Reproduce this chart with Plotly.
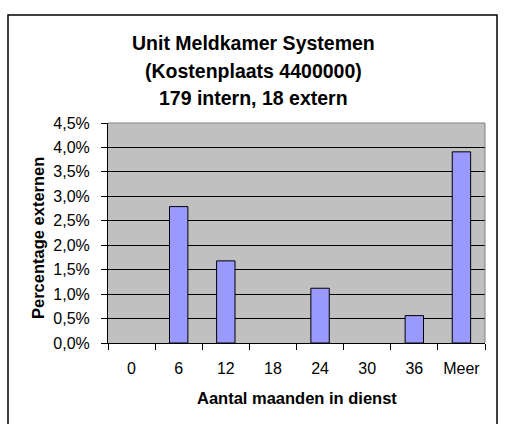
import plotly.graph_objects as go

categories = ["0", "6", "12", "18", "24", "30", "36", "Meer"]
values = [None, 2.79, 1.68, None, 1.12, None, 0.56, 3.91]
title_lines = ["Unit Meldkamer Systemen", "(Kostenplaats 4400000)", "179 intern, 18 extern"]
y_ticks = [0, 0.5, 1.0, 1.5, 2.0, 2.5, 3.0, 3.5, 4.0, 4.5]
y_tick_labels = ["0,0%", "0,5%", "1,0%", "1,5%", "2,0%", "2,5%", "3,0%", "3,5%", "4,0%", "4,5%"]
x_title = "Aantal maanden in dienst"
y_title = "Percentage externen"

FONT = "Liberation Sans, Arial, sans-serif"

fig = go.Figure(go.Bar(
    x=categories, y=values,
    marker=dict(color="#9999FF", line=dict(color="black", width=1)),
))

L, R, T, B = 108, 20, 123, 81
W, H = 505, 424
pw, ph = W - L - R, H - T - B

def px_to_paper_x(px):
    return (px - L) / pw

def px_to_paper_y(py):
    return (H - B - py) / ph

annotations = []
for txt, py in zip(title_lines, [43, 71, 98]):
    annotations.append(dict(text="<b>%s</b>" % txt, x=px_to_paper_x(253), y=px_to_paper_y(py),
                            xref="paper", yref="paper", xanchor="center", yanchor="middle",
                            showarrow=False, font=dict(family=FONT, size=19.5, color="black")))
annotations.append(dict(text="<b>%s</b>" % x_title, x=px_to_paper_x(297), y=px_to_paper_y(398),
                        xref="paper", yref="paper", xanchor="center", yanchor="middle",
                        showarrow=False, font=dict(family=FONT, size=16.5, color="black")))
annotations.append(dict(text="<b>%s</b>" % y_title, x=px_to_paper_x(38), y=px_to_paper_y(238),
                        xref="paper", yref="paper", xanchor="center", yanchor="middle", textangle=-90,
                        showarrow=False, font=dict(family=FONT, size=16.5, color="black")))

shapes = [
    dict(type="rect", xref="paper", yref="paper",
         x0=px_to_paper_x(8), x1=px_to_paper_x(497), y0=px_to_paper_y(440), y1=px_to_paper_y(15),
         line=dict(color="black", width=1.5), layer="below"),
    dict(type="line", xref="paper", yref="paper", x0=0, x1=1, y0=1, y1=1,
         line=dict(color="#808080", width=1)),
    dict(type="line", xref="paper", yref="paper", x0=1, x1=1, y0=0, y1=1,
         line=dict(color="#808080", width=1)),
]

fig.update_layout(
    width=W, height=H,
    margin=dict(l=L, r=R, t=T, b=B, autoexpand=False),
    paper_bgcolor="white",
    plot_bgcolor="#C0C0C0",
    showlegend=False,
    bargap=0.61,
    font=dict(family=FONT, size=16, color="black"),
    annotations=annotations,
    shapes=shapes,
    xaxis=dict(
        type="category",
        showgrid=False,
        showline=True, linecolor="black", linewidth=1,
        ticks="outside", tickson="boundaries", ticklen=6, tickcolor="black",
        tickfont=dict(family=FONT, size=16, color="black"),
        ticklabelstandoff=11,
        range=[-0.5, 7.5],
    ),
    yaxis=dict(
        range=[0, 4.5],
        tickvals=y_ticks,
        ticktext=y_tick_labels,
        showgrid=True, gridcolor="black", gridwidth=1,
        showline=True, linecolor="black", linewidth=1,
        ticks="outside", ticklen=6, tickcolor="black",
        tickfont=dict(family=FONT, size=16, color="black"),
        ticklabelstandoff=8,
        zeroline=False,
    ),
)

fig.write_html("out.html", config={"displayModeBar": False},
               post_script="document.body.style.margin='0';document.body.style.overflow='hidden';")
